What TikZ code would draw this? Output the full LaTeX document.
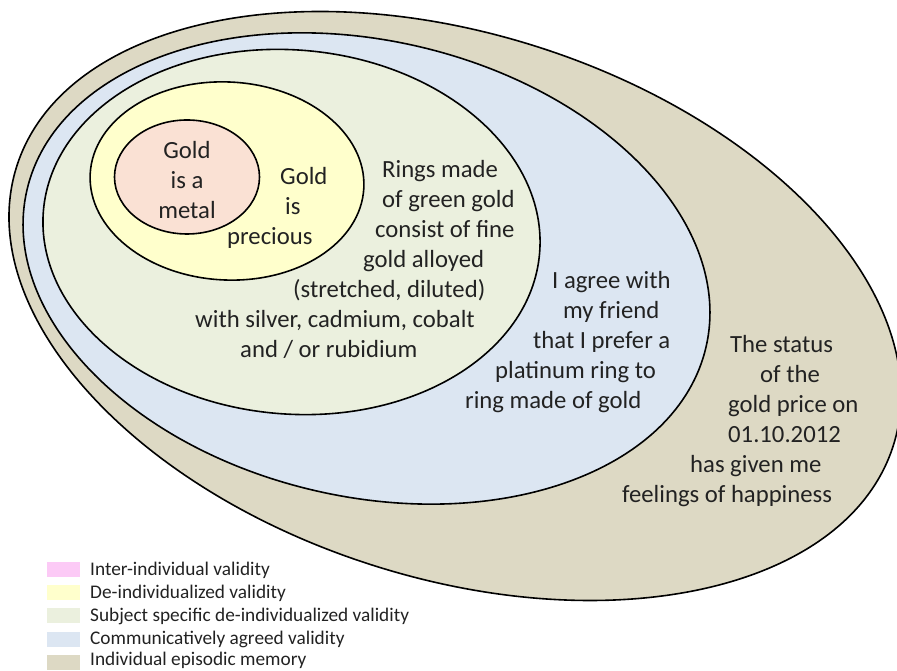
\documentclass[tikz,border=0pt]{standalone}
\usepackage{fontspec}
\setmainfont{Carlito}
\usepackage{tikz}
\usetikzlibrary{shapes.geometric}
\definecolor{memorytan}{HTML}{DDD9C4}
\definecolor{agreedblue}{HTML}{DCE6F2}
\definecolor{subjectgreen}{HTML}{EBF0DE}
\definecolor{deindyellow}{HTML}{FFFFCC}
\definecolor{metalpeach}{HTML}{FAE1D4}
\definecolor{interpink}{HTML}{FCCAF6}
\definecolor{inktext}{HTML}{222222}

\begin{document}
\begin{tikzpicture}[x=1pt, y=1pt]
 \tikzstyle{zone}=[ellipse, draw, line width=1.6pt, inner sep=0pt]
 \tikzstyle{txt}=[inner sep=0pt, text=inktext, font=\fontsize{24.7}{30}\selectfont]
 \tikzstyle{swatch}=[rectangle, inner sep=0pt, minimum width=33pt, minimum height=15pt]
 \tikzstyle{key}=[anchor=west, inner sep=0pt, text=inktext, font=\fontsize{19.3}{23}\selectfont]

 \useasboundingbox (0, 0) rectangle (897, 671);

 \begin{scope}
  \draw (455, 365) node[zone, fill=memorytan, minimum width=920pt, minimum height=544pt, rotate=-17.7] (memory) {};
  \draw (366.5, 402.5) node[zone, fill=agreedblue, minimum width=697pt, minimum height=456pt, rotate=-13] (agreed) {};
  \draw (291.5, 439) node[zone, fill=subjectgreen, minimum width=498pt, minimum height=364pt, rotate=-5] (subject) {};
  \draw (227, 490) node[zone, fill=deindyellow, minimum width=274pt, minimum height=198pt, rotate=-3] (deind) {};
  \draw (187, 494) node[zone, fill=metalpeach, minimum width=145pt, minimum height=114pt] (metal) {};
 \end{scope}

 \begin{scope}
  \draw (187, 530) node[txt, anchor=north, align=center] (metaltxt) {Gold\\is a\\metal};
  \draw (227, 504) node[txt, anchor=north west, align=left] (precioustxt)
   {\hspace*{53pt}Gold\\\hspace*{58pt}is\\precious};
  \draw (195, 511) node[txt, anchor=north west, align=left] (ringstxt)
   {\hspace*{187pt}Rings made\\\hspace*{187pt}of green gold\\\hspace*{180pt}consist of fine\\
    \hspace*{168pt}gold alloyed\\\hspace*{98pt}(stretched, diluted)\\with silver, cadmium, cobalt\\
    \hspace*{45pt}and / or rubidium};
  \draw (465, 400) node[txt, anchor=north west, align=left] (agreetxt)
   {\hspace*{87pt}I agree with\\\hspace*{98pt}my friend\\\hspace*{68pt}that I prefer a\\
    \hspace*{30pt}platinum ring to\\ring made of gold};
  \draw (622, 336) node[txt, anchor=north west, align=left] (statustxt)
   {\hspace*{108pt}The status\\\hspace*{138pt}of the\\\hspace*{106pt}gold price on\\
    \hspace*{106pt}01.10.2012\\\hspace*{68pt}has given me\\feelings of happiness};
 \end{scope}

 % legend
 \begin{scope}
  \draw (63.5, 101.5) node[swatch, fill=interpink] (swinter) {};
  \draw (90, 101) node[key] (keyinter) {Inter-individual validity};
  \draw (63.5, 78.5) node[swatch, fill=deindyellow] (swdeind) {};
  \draw (90, 78) node[key] (keydeind) {De-individualized validity};
  \draw (63.5, 55) node[swatch, fill=subjectgreen] (swsubject) {};
  \draw (90, 54.5) node[key] (keysubject) {Subject specific de-individualized validity};
  \draw (63.5, 31.5) node[swatch, fill=agreedblue] (swagreed) {};
  \draw (90, 31.5) node[key] (keyagreed) {Communicatively agreed validity};
  \draw (63.5, 8) node[swatch, fill=memorytan] (swmemory) {};
  \draw (90, 10.5) node[key] (keymemory) {Individual episodic memory};
 \end{scope}
\end{tikzpicture}
\end{document}
